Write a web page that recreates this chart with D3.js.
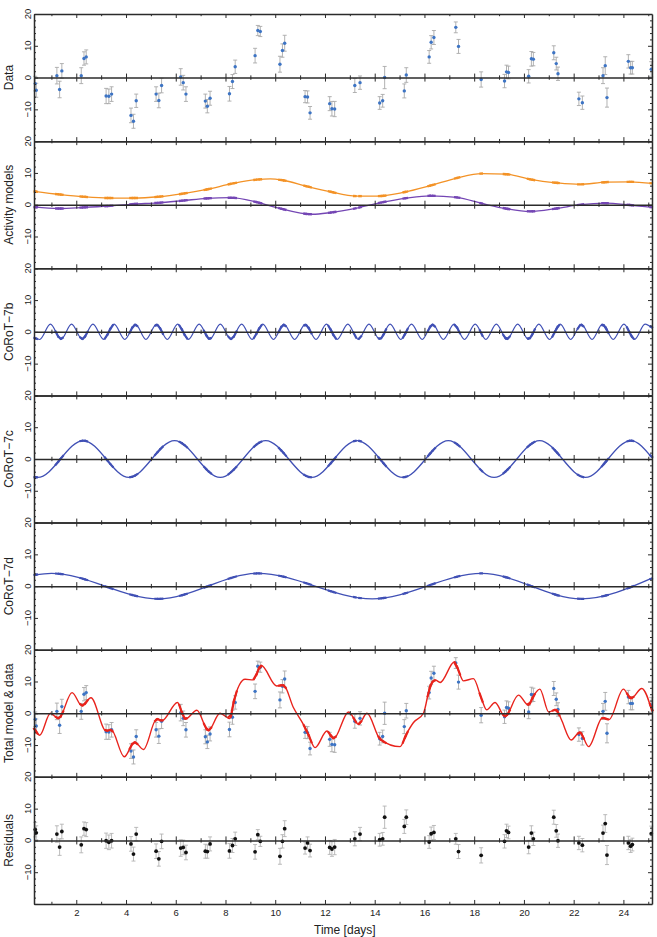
<!DOCTYPE html>
<html>
<head>
<meta charset="utf-8">
<script src="https://cdn.jsdelivr.net/npm/d3@7"></script>
<style>
  body { margin: 0; background: #fff; }
  text { font-family: "Liberation Sans", Arial, Helvetica, sans-serif; }
</style>
</head>
<body>
<svg id="chart" width="657" height="937"></svg>
<script>
// Observations
// ------------
var obsTime = [0.35,0.39, 1.22,1.33,1.42, 2.2,2.31,2.4, 3.2,3.31,3.42, 4.2,4.3,4.41,
  5.21,5.32,5.43, 6.2,6.3,6.41, 7.19,7.27,7.38, 8.16,8.28,8.39, 9.19,9.3,9.4,
  10.19,10.29,10.38, 11.2,11.3,11.4, 12.19,12.28,12.39, 13.2,13.41, 14.2,14.32,14.4,
  15.19,15.27, 16.19,16.27,16.38, 17.26,17.37, 18.28, 19.22,19.3,19.38,
  20.19,20.3,20.38, 21.2,21.3,21.37, 22.21,22.35, 23.18,23.27,23.34, 24.2,24.29,24.36, 25.12];
var dataRv = [-1.9,-4.0, 0.6,-3.75,2.1, 0.6,6.0,6.5, -5.8,-5.9,-5.2, -11.9,-13.75,-7.3,
  -5.2,-7.2,-2.5, 0.2,-1.6,-5.2, -7.4,-9.0,-6.5, -5.1,-1.25,3.4, 6.9,14.8,14.5,
  4.2,8.5,10.8, -6.0,-6.1,-11.1, -8.2,-9.8,-9.9, -2.5,-1.6, -8.0,-7.3,0.0,
  -4.2,0.8, 6.5,11.1,12.6, 15.8,9.8, -0.6, -1.1,1.8,1.6,
  0.4,5.9,5.8, 7.8,4.4,1.2, -6.7,-7.9, 0.6,3.75,-6.3, 5.1,3.1,3.1, 2.6];
var dataErr = [2.3,2.2, 2.6,2.6,2.3, 2.5,2.1,2.2, 2.4,2.3,2.3, 2.3,2.2,2.1,
  2.3,2.3,2.3, 2.6,2.3,2.3, 2.2,2.1,2.2, 2.3,2.2,2.1, 2.3,1.6,1.6,
  2.5,2.1,2.5, 1.9,1.9,2.0, 2.2,2.3,2.4, 2.2,2.1, 2.0,2.0,3.5,
  2.2,2.3, 2.0,2.1,2.2, 1.7,2.2, 2.4, 2.1,2.1,2.0,
  2.1,2.3,2.1, 2.2,2.0,2.1, 2.1,2.1, 2.5,2.8,3.0, 2.1,2.0,2.0, 2.4];
var residRv = [3.4,2.4, 2.0,-2.1,2.8, -1.4,3.7,3.4, -0.1,-0.6,-0.1, -1.1,-4.3,2.0,
  -3.4,-5.8,-0.3, -2.4,-2.2,-3.8, -3.4,-3.5,-1.1, -3.3,-1.6,0.5, -3.6,1.8,-0.3,
  -5.0,-0.3,3.7, -2.4,-0.8,-3.2, -2.2,-2.7,-2.1, 0.5,2.0, 0.2,0.5,7.3,
  4.4,7.3, -0.5,2.1,2.5, 0.5,-3.5, -4.7, -0.3,3.0,2.5,
  -2.1,2.3,0.5, 7.3,3.0,-0.1, -0.8,-1.5, 2.3,5.3,-4.6, -0.8,-1.8,-1.3, 2.1];

// Activity models
// ---------------
var orangeT = [0.3,1.36,2.3,3.3,4.3,5.3,6.3,7.25,8.3,9.26,9.8,10.3,11.26,12.15,13.28,14.09,
  15.16,16.23,17.3,18.3,19.3,20.3,21.3,22.26,23.3,24.26,25.15];
var orangeV = [4.2,3.2,2.5,2.1,2.1,2.5,3.5,4.8,6.7,7.9,8.1,7.7,5.8,4.2,2.7,2.7,
  3.9,6.0,8.4,9.8,9.6,7.9,6.9,6.4,7.1,7.2,6.7];
var purpleT = [0.3,1.3,2.3,3.3,4.3,5.3,6.3,7.25,8.2,9.26,10.06,11.5,12.2,13.28,14.2,15.3,
  16.23,17.3,18.36,19.3,20.24,21.3,22.26,23.27,24.26,25.15];
var purpleV = [-0.7,-1.2,-0.85,-0.4,0.2,0.6,1.3,2.0,2.2,0.8,-0.9,-3.0,-2.5,-1.05,0.6,2.1,
  2.8,2.3,0.3,-1.25,-2.1,-1.2,0.0,0.5,-0.1,-0.85];

// Planet signals (extrema)
// --------------------------------------------
var bT = [0.3,0.53,0.96,1.39,1.81,2.24,2.67,3.10,3.52,3.95,4.38,4.80,5.23,5.66,6.08,6.51,
  6.94,7.37,7.79,8.22,8.65,9.07,9.50,9.93,10.35,10.78,11.21,11.64,12.06,12.49,12.92,
  13.34,13.77,14.20,14.62,15.05,15.48,15.91,16.33,16.76,17.19,17.61,18.04,18.47,18.89,
  19.32,19.75,20.18,20.60,21.03,21.46,21.88,22.31,22.74,23.16,23.59,24.02,24.45,24.87,25.15];
var bV = [-1.8,-2.4,2.4,-2.4,2.4,-2.4,2.4,-2.4,2.4,-2.4,2.4,-2.4,2.4,-2.4,2.4,-2.4,
  2.4,-2.4,2.4,-2.4,2.4,-2.4,2.4,-2.4,2.4,-2.4,2.4,-2.4,2.4,-2.4,2.4,
  -2.4,2.4,-2.4,2.4,-2.4,2.4,-2.4,2.4,-2.4,2.4,-2.4,2.4,-2.4,2.4,
  -2.4,2.4,-2.4,2.4,-2.4,2.4,-2.4,2.4,-2.4,2.4,-2.4,2.4,-2.4,2.4,1.2];
var cT = [0.3,0.45,2.28,4.12,5.95,7.79,9.62,11.46,13.29,15.13,16.96,18.80,20.63,22.47,24.30,25.15];
var cV = [-5.7,-5.8,5.8,-5.8,5.8,-5.8,5.8,-5.8,5.8,-5.8,5.8,-5.8,5.8,-5.8,5.8,0.4];
var dT = [0.3,1.0,5.3,9.3,13.9,18.3,22.3,25.15];
var dV = [3.5,4.0,-4.0,4.0,-4.0,4.0,-4.0,2.5];

// Total model (red), extrema and turning points
// ---------------------------------------------
var totalT = [0.3,0.53,0.96,1.29,1.83,2.23,2.59,3.2,3.4,3.93,4.34,4.7,5.24,5.44,6.07,6.38,
  6.85,7.31,7.78,8.18,8.32,8.79,9.12,9.43,10.06,10.33,10.73,11.13,11.33,11.6,12.08,12.35,
  12.95,13.35,13.69,14.22,15.02,15.29,15.56,15.96,16.23,16.43,16.63,17.21,17.37,17.57,
  17.97,18.3,18.5,18.84,19.24,19.78,20.18,20.38,20.64,21.0,21.3,21.5,21.9,22.25,22.6,
  23.16,23.42,24.0,24.3,24.74,25.15];
var totalV = [-4.6,-6.9,0,-1.7,6.5,2.3,4.9,-5.6,-5.1,-13.7,-9.0,-11.4,-1.7,-2.4,3.4,-1.9,
  0.95,-5.5,0,-1.7,3.4,10.7,10.5,15.1,8.6,8.9,1.8,-3.5,-6.6,-10.8,-5.6,-8.0,
  0.4,-3.5,0,-8.2,-10.5,-6.3,-2.9,0,8.6,10.5,9.7,16.2,13.4,10.2,
  10.9,4.4,1.1,3.4,-1.1,5.7,2.5,5.4,7.6,0.4,1.2,-1.9,-8.4,-5.9,-10.5,
  -1.4,-2.0,7.6,4.6,7.8,0.6];

var panelNames = ["Data", "Activity models", "CoRoT\u22127b", "CoRoT\u22127c",
  "CoRoT\u22127d", "Total model & data", "Residuals"];
var xTickDays = d3.range(1, 26);
var yTickLabels = [20, 10, 0, -10];

// Layout
// ------
var svg = d3.select("#chart");
var left = 34, right = 652, top0 = 14, panelH = 127.14;
var axisColor = "#2b2b2b";

var x = d3.scaleLinear().domain([0.3, 25.15]).range([left, right]);

function panelY(i) {
  return d3.scaleLinear().domain([-20, 20]).range([top0 + (i + 1) * panelH, top0 + i * panelH]);
}

function lineOf(ts, vs, y) {
  return d3.line()
    .x(function (d) { return x(d[0]); })
    .y(function (d) { return y(d[1]); })
    .curve(d3.curveMonotoneX)(d3.zip(ts, vs));
}

// y on a drawn path at a given pixel x (path runs left to right)
function yOnPath(node, px) {
  var lo = 0, hi = node.getTotalLength();
  for (var k = 0; k < 30; k++) {
    var mid = (lo + hi) / 2;
    if (node.getPointAtLength(mid).x < px) lo = mid; else hi = mid;
  }
  return node.getPointAtLength(lo).y;
}

function drawCurve(g, ts, vs, y, color, width, markW) {
  var path = g.append("path")
    .attr("d", lineOf(ts, vs, y))
    .attr("fill", "none")
    .attr("stroke", color)
    .attr("stroke-width", width);
  if (markW) {
    var node = path.node();
    obsTime.forEach(function (t) {
      var px = x(t);
      g.append("line")
        .attr("x1", px - 1.8).attr("y1", yOnPath(node, px - 1.8))
        .attr("x2", px + 1.8).attr("y2", yOnPath(node, px + 1.8))
        .attr("stroke", color)
        .attr("stroke-width", markW);
    });
  }
}

function drawErrPoints(g, vs, errs, y, barColor, dotColor, r) {
  var pts = d3.zip(obsTime, vs, errs);
  var bars = g.append("g").attr("stroke", barColor).attr("stroke-width", 0.9);
  pts.forEach(function (p) {
    var px = x(p[0]);
    bars.append("line").attr("x1", px).attr("x2", px)
      .attr("y1", y(p[1] - p[2])).attr("y2", y(p[1] + p[2]));
    [p[1] - p[2], p[1] + p[2]].forEach(function (e) {
      bars.append("line").attr("x1", px - 2).attr("x2", px + 2)
        .attr("y1", y(e)).attr("y2", y(e));
    });
  });
  g.append("g").selectAll("circle").data(pts).join("circle")
    .attr("cx", function (d) { return x(d[0]); })
    .attr("cy", function (d) { return y(d[1]); })
    .attr("r", r)
    .attr("fill", dotColor);
}

// x ticks along a horizontal line; up/down = how far ticks reach
function xTickLine(g, yPos, up, down, labels) {
  var ax = d3.axisBottom(x).tickValues(xTickDays).tickSizeOuter(0)
    .tickFormat(function (d) { return labels && d % 2 === 0 ? d : ""; });
  var a = g.append("g").attr("transform", "translate(0," + yPos + ")").call(ax);
  a.select(".domain").attr("stroke", axisColor).attr("stroke-width", 1.5);
  a.selectAll(".tick line")
    .attr("stroke", axisColor)
    .attr("stroke-width", 1)
    .attr("y1", function (d) { return -up * (d % 2 === 0 ? 4 : 2.2); })
    .attr("y2", function (d) { return down * (d % 2 === 0 ? 4 : 2.2); });
  a.selectAll(".tick text")
    .attr("y", 5)
    .attr("font-size", 9.5)
    .attr("font-family", null)
    .attr("fill", "#222");
}

function yAxes(g, y, i) {
  var la = g.append("g").attr("transform", "translate(" + left + ",0)")
    .call(d3.axisRight(y).tickValues(d3.range(-20, 21, 2)).tickFormat("").tickSizeOuter(0));
  var ra = g.append("g").attr("transform", "translate(" + right + ",0)")
    .call(d3.axisLeft(y).tickValues(d3.range(-20, 21, 2)).tickFormat("").tickSizeOuter(0));
  [la, ra].forEach(function (a) {
    a.select(".domain").attr("stroke", axisColor).attr("stroke-width", 1.5);
    a.selectAll(".tick line").attr("stroke", axisColor)
      .attr("x2", function (d) { return (a === la ? 1 : -1) * (d % 10 === 0 ? 4 : 2); });
  });
  g.append("g").selectAll("text").data(yTickLabels).join("text")
    .attr("transform", function (d) { return "translate(" + (left - 3.5) + "," + y(d) + ") rotate(-90)"; })
    .attr("text-anchor", "middle")
    .attr("font-size", 9.5)
    .attr("fill", "#222")
    .text(function (d) { return d < 0 ? "\u2212" + (-d) : d; });
  g.append("text")
    .attr("transform", "translate(13," + y(0) + ") rotate(-90)")
    .attr("text-anchor", "middle")
    .attr("font-size", 12)
    .attr("fill", "#222")
    .text(panelNames[i]);
}

// Panels
// ------
var blue = "#4050b5", dataBlue = "#3d74c4", errGray = "#a9a9a9";

panelNames.forEach(function (name, i) {
  var y = panelY(i);
  var g = svg.append("g");

  if (i === 0) {
    drawErrPoints(g, dataRv, dataErr, y, errGray, dataBlue, 1.7);
  } else if (i === 1) {
    drawCurve(g, orangeT, orangeV, y, "#f39226", 1.3, 2.4);
    drawCurve(g, purpleT, purpleV, y, "#7446b4", 1.3, 2.4);
  } else if (i === 2) {
    drawCurve(g, bT, bV, y, blue, 1.2, 2.2);
  } else if (i === 3) {
    drawCurve(g, cT, cV, y, blue, 1.3, 2.2);
  } else if (i === 4) {
    drawCurve(g, dT, dV, y, blue, 1.3, 2.2);
  } else if (i === 5) {
    drawErrPoints(g, dataRv, dataErr, y, errGray, dataBlue, 1.7);
    drawCurve(g, totalT, totalV, y, "#e8231c", 1.4, 2.2);
  } else {
    drawErrPoints(g, residRv, dataErr, y, "#b3b3b3", "#111", 1.9);
  }

  xTickLine(g, y(20), 0, 1, false);
  xTickLine(g, y(0), 1, 1, false);
  xTickLine(g, y(-20), 1, 0, i === panelNames.length - 1);
  yAxes(g, y, i);
});

svg.append("text")
  .attr("x", x(12.8))
  .attr("y", 934)
  .attr("text-anchor", "middle")
  .attr("font-size", 12)
  .attr("fill", "#222")
  .text("Time [days]");
</script>
</body>
</html>
